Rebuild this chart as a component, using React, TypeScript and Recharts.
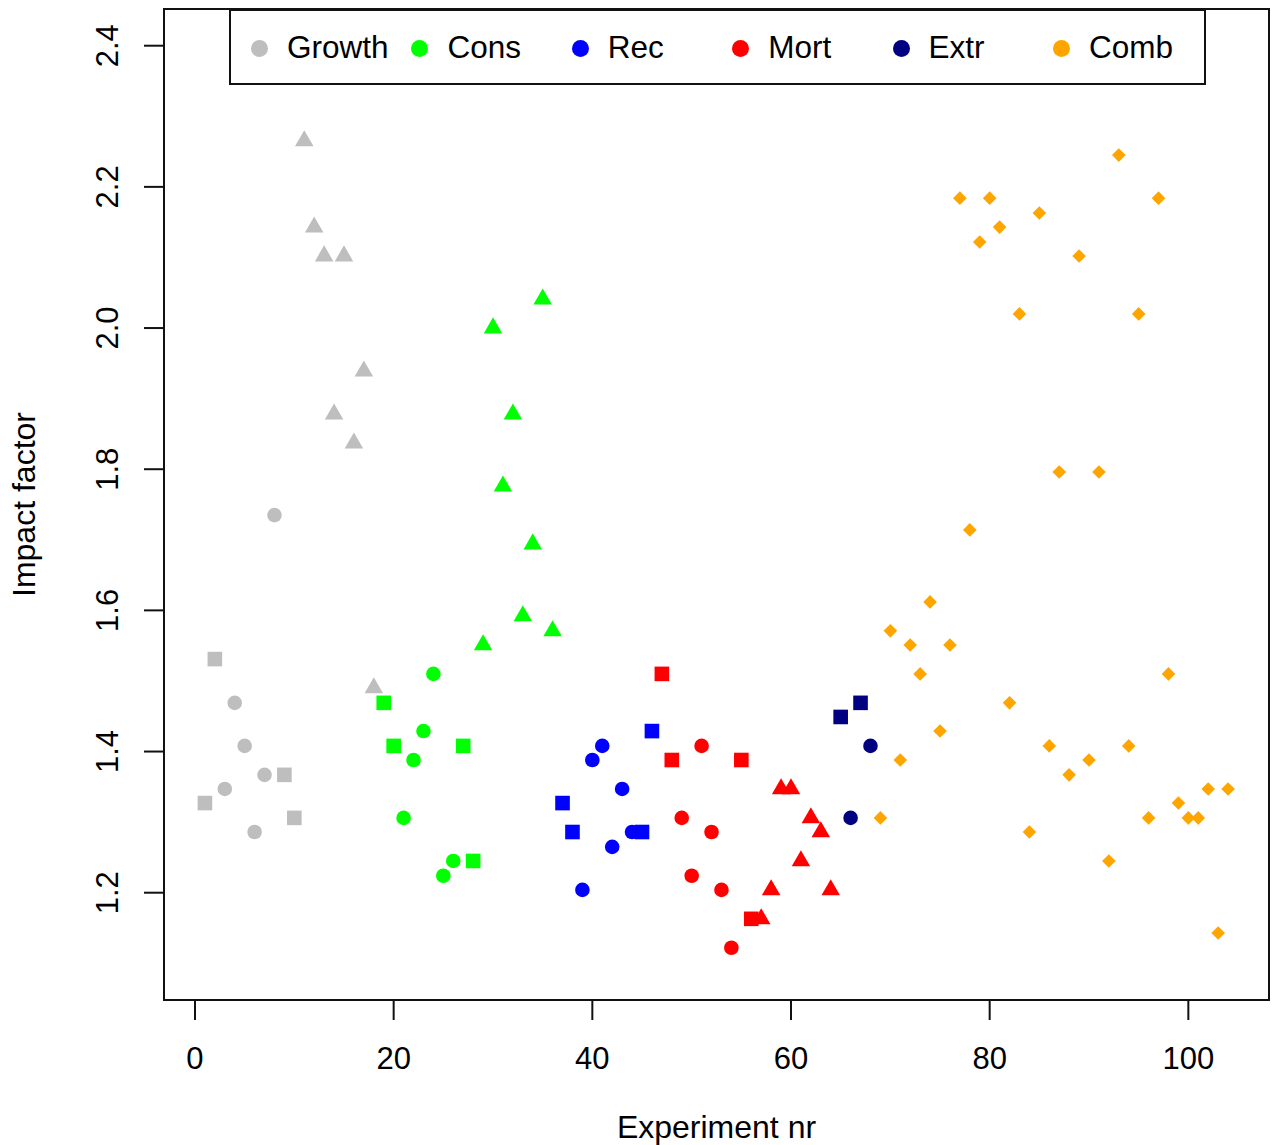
import { Legend, ReferenceArea, Scatter, ScatterChart, XAxis, YAxis } from "recharts";

type Shape = "c" | "s" | "t" | "d";
type Pt = [number, number, Shape];

const FONT = '"Liberation Sans", Arial, Helvetica, sans-serif';

// experiment nr, impact factor, marker (c = circle, s = square, t = triangle, d = diamond)
const GROWTH: Pt[] = [
  [1, 1.327, "s"], [2, 1.531, "s"], [3, 1.347, "c"], [4, 1.469, "c"], [5, 1.408, "c"],
  [6, 1.286, "c"], [7, 1.367, "c"], [8, 1.735, "c"], [9, 1.367, "s"], [10, 1.306, "s"],
  [11, 2.265, "t"], [12, 2.143, "t"], [13, 2.102, "t"], [14, 1.878, "t"], [15, 2.102, "t"],
  [16, 1.837, "t"], [17, 1.939, "t"], [18, 1.49, "t"],
];

const CONS: Pt[] = [
  [19, 1.469, "s"], [20, 1.408, "s"], [21, 1.306, "c"], [22, 1.388, "c"], [23, 1.429, "c"],
  [24, 1.51, "c"], [25, 1.224, "c"], [26, 1.245, "c"], [27, 1.408, "s"], [28, 1.245, "s"],
  [29, 1.551, "t"], [30, 2.0, "t"], [31, 1.776, "t"], [32, 1.878, "t"], [33, 1.592, "t"],
  [34, 1.694, "t"], [35, 2.041, "t"], [36, 1.571, "t"],
];

const REC: Pt[] = [
  [37, 1.327, "s"], [38, 1.286, "s"], [39, 1.204, "c"], [40, 1.388, "c"], [41, 1.408, "c"],
  [42, 1.265, "c"], [43, 1.347, "c"], [44, 1.286, "c"], [45, 1.286, "s"], [46, 1.429, "s"],
];

const MORT: Pt[] = [
  [47, 1.51, "s"], [48, 1.388, "s"], [49, 1.306, "c"], [50, 1.224, "c"], [51, 1.408, "c"],
  [52, 1.286, "c"], [53, 1.204, "c"], [54, 1.122, "c"], [55, 1.388, "s"], [56, 1.163, "s"],
  [57, 1.163, "t"], [58, 1.204, "t"], [59, 1.347, "t"], [60, 1.347, "t"], [61, 1.245, "t"],
  [62, 1.306, "t"], [63, 1.286, "t"], [64, 1.204, "t"],
];

const EXTR: Pt[] = [
  [65, 1.449, "s"], [66, 1.306, "c"], [67, 1.469, "s"], [68, 1.408, "c"],
];

const COMB: Pt[] = [
  [69, 1.306, "d"], [70, 1.571, "d"], [71, 1.388, "d"], [72, 1.551, "d"], [73, 1.51, "d"],
  [74, 1.612, "d"], [75, 1.429, "d"], [76, 1.551, "d"], [77, 2.184, "d"], [78, 1.714, "d"],
  [79, 2.122, "d"], [80, 2.184, "d"], [81, 2.143, "d"], [82, 1.469, "d"], [83, 2.02, "d"],
  [84, 1.286, "d"], [85, 2.163, "d"], [86, 1.408, "d"], [87, 1.796, "d"], [88, 1.367, "d"],
  [89, 2.102, "d"], [90, 1.388, "d"], [91, 1.796, "d"], [92, 1.245, "d"], [93, 2.245, "d"],
  [94, 1.408, "d"], [95, 2.02, "d"], [96, 1.306, "d"], [97, 2.184, "d"], [98, 1.51, "d"],
  [99, 1.327, "d"], [100, 1.306, "d"], [101, 1.306, "d"], [102, 1.347, "d"], [103, 1.143, "d"],
  [104, 1.347, "d"],
];

const GROUPS: { name: string; color: string; pts: Pt[] }[] = [
  { name: "Growth", color: "#BEBEBE", pts: GROWTH },
  { name: "Cons", color: "#00FF00", pts: CONS },
  { name: "Rec", color: "#0000FF", pts: REC },
  { name: "Mort", color: "#FF0000", pts: MORT },
  { name: "Extr", color: "#000080", pts: EXTR },
  { name: "Comb", color: "#FFA500", pts: COMB },
];

const X_TICKS = [0, 20, 40, 60, 80, 100];
const Y_TICKS = [1.2, 1.4, 1.6, 1.8, 2.0, 2.2, 2.4];
const X_DOMAIN: [number, number] = [-3.12, 108.12];
const Y_DOMAIN: [number, number] = [1.048, 2.452];

function Marker(props: any) {
  const { cx, cy, fill, payload } = props;
  if (cx == null || cy == null) return <g />;
  const s: Shape = payload?.s;
  if (s === "s") {
    const h = 7.3;
    return <rect x={cx - h} y={cy - h} width={2 * h} height={2 * h} fill={fill} />;
  }
  if (s === "t") {
    const r = 10.7;
    const b = 9.25;
    return <polygon points={`${cx},${cy - r} ${cx + b},${cy + r / 2} ${cx - b},${cy + r / 2}`} fill={fill} />;
  }
  if (s === "d") {
    const h = 6.8;
    return <polygon points={`${cx},${cy - h} ${cx + h},${cy} ${cx},${cy + h} ${cx - h},${cy}`} fill={fill} />;
  }
  return <circle cx={cx} cy={cy} r={7.3} fill={fill} />;
}

function YTick(props: any) {
  const { x, y, payload } = props;
  return (
    <text
      x={x}
      y={y}
      transform={`rotate(-90 ${x} ${y})`}
      textAnchor="middle"
      fontSize={31}
      fontFamily={FONT}
      fill="#000"
    >
      {Number(payload.value).toFixed(1)}
    </text>
  );
}

function LegendBox(props: any) {
  const order = GROUPS.map((g) => g.name);
  const items = [...(props.payload ?? [])].sort(
    (a: any, b: any) => order.indexOf(a.value) - order.indexOf(b.value),
  );
  return (
    <div
      style={{
        width: 977,
        height: 76,
        boxSizing: "border-box",
        border: "2px solid #111",
        background: "#fff",
        position: "relative",
        fontFamily: FONT,
        fontSize: 31.5,
      }}
    >
      {items.map((it: any, i: number) => (
        <div
          key={it.value}
          style={{ position: "absolute", left: 20 + i * 160.4, top: 0, height: 74, display: "flex", alignItems: "center" }}
        >
          <span style={{ width: 17, height: 17, borderRadius: "50%", background: it.color, display: "inline-block" }} />
          <span style={{ marginLeft: 19, color: "#000", lineHeight: 1 }}>{it.value}</span>
        </div>
      ))}
    </div>
  );
}

export default function App() {
  return (
    <div style={{ position: "absolute", left: 0, top: 0, background: "#fff" }}>
      <ScatterChart width={1275} height={1145} margin={{ top: 9, right: 6, bottom: 0, left: 0 }}>
        <XAxis
          type="number"
          dataKey="x"
          domain={X_DOMAIN}
          ticks={X_TICKS}
          allowDataOverflow
          height={145}
          axisLine={false}
          tickLine={{ stroke: "#111", strokeWidth: 2 }}
          tickSize={20}
          tickMargin={27}
          tick={{ fill: "#000", fontSize: 31, fontFamily: FONT }}
          label={{
            content: (p: any) => {
              const vb = p.viewBox;
              return (
                <text x={vb.x + vb.width / 2} y={vb.y + 138} textAnchor="middle" fontSize={32} fontFamily={FONT} fill="#000">
                  Experiment nr
                </text>
              );
            },
          }}
        />
        <YAxis
          type="number"
          dataKey="y"
          domain={Y_DOMAIN}
          ticks={Y_TICKS}
          allowDataOverflow
          width={164}
          axisLine={false}
          tickLine={{ stroke: "#111", strokeWidth: 2 }}
          tickSize={20}
          tickMargin={26}
          tick={<YTick />}
          label={{
            content: (p: any) => {
              const vb = p.viewBox;
              const x = vb.x + 35;
              const y = vb.y + vb.height / 2;
              return (
                <text x={x} y={y} transform={`rotate(-90 ${x} ${y})`} textAnchor="middle" fontSize={32} fontFamily={FONT} fill="#000">
                  Impact factor
                </text>
              );
            },
          }}
        />
        <ReferenceArea
          x1={X_DOMAIN[0]}
          x2={X_DOMAIN[1]}
          y1={Y_DOMAIN[0]}
          y2={Y_DOMAIN[1]}
          fill="none"
          fillOpacity={0}
          stroke="#111"
          strokeWidth={2}
          ifOverflow="visible"
        />
        {GROUPS.map((g) => (
          <Scatter
            key={g.name}
            name={g.name}
            data={g.pts.map(([x, y, s]) => ({ x, y, s }))}
            fill={g.color}
            legendType="circle"
            shape={Marker}
            isAnimationActive={false}
          />
        ))}
        <Legend
          layout="vertical"
          verticalAlign="middle"
          align="center"
          content={<LegendBox />}
          wrapperStyle={{ position: "absolute", left: 229, top: 9, width: 977, height: 76 }}
        />
      </ScatterChart>
    </div>
  );
}
